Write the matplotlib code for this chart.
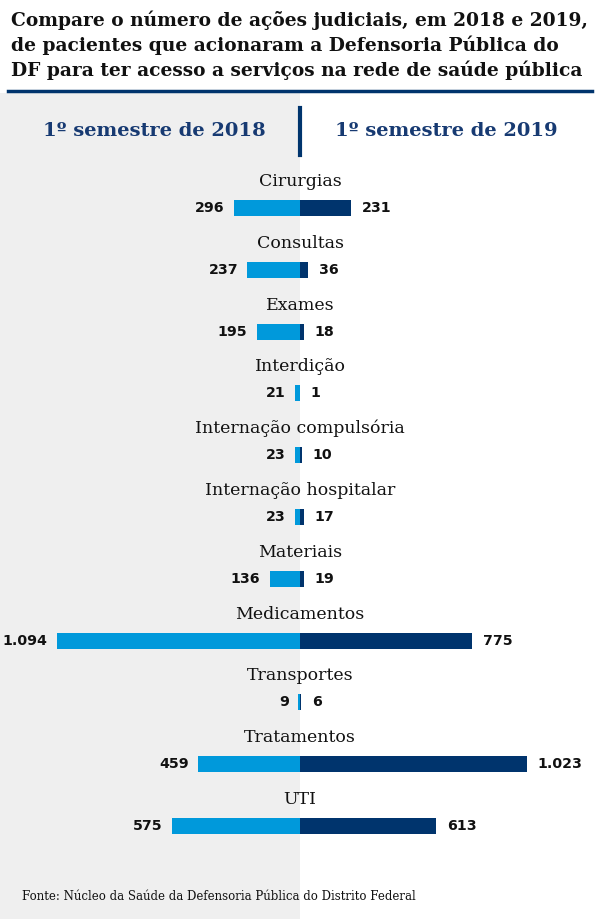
import matplotlib
matplotlib.use("Agg")
import matplotlib.pyplot as plt
from matplotlib.patches import Rectangle
import numpy as np

categories = ["Cirurgias", "Consultas", "Exames", "Interdição", "Internação compulsória",
              "Internação hospitalar", "Materiais", "Medicamentos", "Transportes",
              "Tratamentos", "UTI"]
v2018 = [296, 237, 195, 21, 23, 23, 136, 1094, 9, 459, 575]
v2019 = [231, 36, 18, 1, 10, 17, 19, 775, 6, 1023, 613]
header_left = "1º semestre de 2018"
header_right = "1º semestre de 2019"
title_lines = ["Compare o número de ações judiciais, em 2018 e 2019,",
               "de pacientes que acionaram a Defensoria Pública do",
               "DF para ter acesso a serviços na rede de saúde pública"]
source = "Fonte: Núcleo da Saúde da Defensoria Pública do Distrito Federal"

LIGHT = "#0099db"
DARK = "#00346d"
NAVY = "#173a72"
GRAY = "#efefef"

W, H = 600, 919
fig = plt.figure(figsize=(W / 100, H / 100), dpi=100)
fig.patch.set_facecolor("white")

ax = fig.add_axes([0, 0, 1, 1])
ax.set_xlim(-1351, 1351)
spacing = 61.8
ax.set_ylim(10 + (H - 826) / spacing, -(208 / spacing))
ax.axis("off")

# gray background left half
ax.add_patch(Rectangle((0, 0), 0.5, (H - 93) / H, transform=ax.transAxes,
                       facecolor=GRAY, edgecolor="none", zorder=0))

y = np.arange(len(categories))
bh = 16 / spacing
ax.barh(y, -np.array(v2018), height=bh, color=LIGHT, zorder=2)
ax.barh(y, np.array(v2019), height=bh, color=DARK, zorder=2)

def fmt(v):
    return f"{v:,}".replace(",", ".")

numfont = dict(family="DejaVu Sans", fontweight="bold", fontsize=10.2, color="#111111")
for i, (c, a, b) in enumerate(zip(categories, v2018, v2019)):
    ax.text(0, i - 0.43, c, ha="center", va="center", family="DejaVu Serif",
            fontsize=12.5, color="#111111", zorder=3)
    ax.text(-a - 42, i, fmt(a), ha="right", va="center", zorder=3, **numfont)
    ax.text(b + 48, i, fmt(b), ha="left", va="center", zorder=3, **numfont)

# title
for k, line in enumerate(title_lines):
    fig.text(11 / W, 1 - (20 + 25 * k) / H, line, ha="left", va="center",
             family="DejaVu Serif", fontweight="bold", fontsize=13.4, color="#111111")

# header rule
fig.add_artist(plt.Line2D([8 / W, 592 / W], [1 - 91 / H, 1 - 91 / H], color=DARK, lw=2.5))
# divider
fig.add_artist(plt.Line2D([300 / W, 300 / W], [1 - 108 / H, 1 - 155 / H], color=DARK, lw=3))

fig.text(154 / W, 1 - 131 / H, header_left, ha="center", va="center", family="DejaVu Serif",
         fontweight="bold", fontsize=14, color=NAVY)
fig.text(446 / W, 1 - 131 / H, header_right, ha="center", va="center", family="DejaVu Serif",
         fontweight="bold", fontsize=14, color=NAVY)

fig.text(22 / W, 1 - 897 / H, source, ha="left", va="center", family="DejaVu Serif",
         fontsize=8.5, color="#111111")

fig.savefig("out.png", dpi=100, facecolor="white")
